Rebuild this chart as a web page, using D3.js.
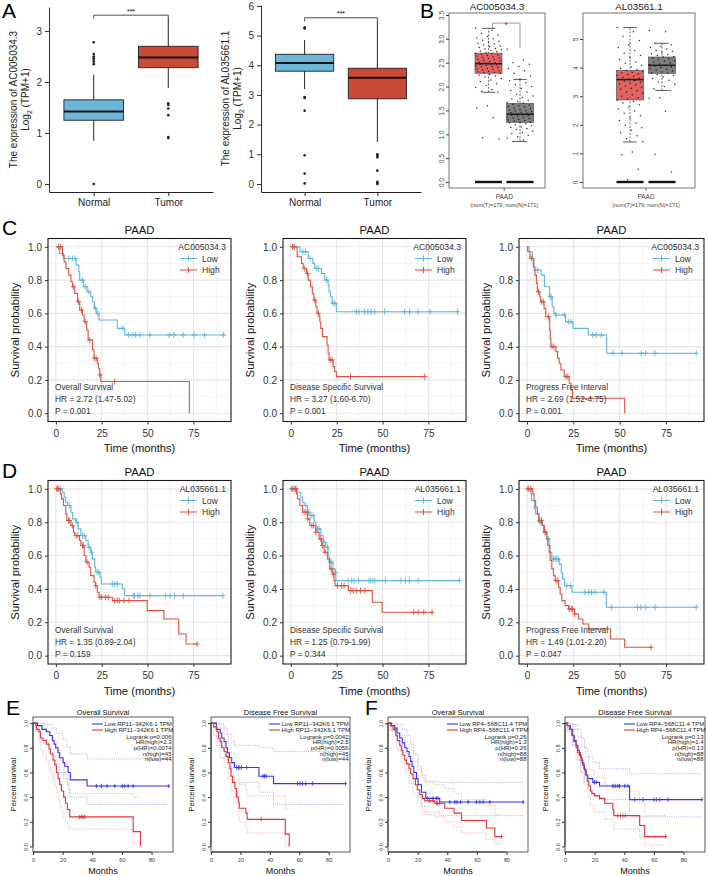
<!DOCTYPE html>
<html>
<head>
<meta charset="utf-8">
<script src="https://cdn.jsdelivr.net/npm/d3@7"></script>
<style>
  body { margin: 0; background: #fff; }
  svg { display: block; font-family: "Liberation Sans", Arial, Helvetica, sans-serif; }
</style>
</head>
<body>
<script>
// ---------- A: boxplots (TCGA) ----------
const groupsA = ["Normal", "Tumor"];
// [lower whisker, q1, median, q3, upper whisker]
const statsA1 = [[0.85, 1.25, 1.42, 1.65, 2.15], [1.88, 2.28, 2.48, 2.70, 3.25]];
const outA1 = [[2.78, 2.55, 2.5, 2.47, 2.44, 2.4, 2.35, 0.0], [1.58, 1.55, 1.48, 1.35, 0.92, 0.9]];
const statsA2 = [[3.2, 3.8, 4.08, 4.37, 4.85], [1.42, 2.87, 3.58, 3.9, 5.48]];
const outA2 = [[5.28, 5.24, 2.93, 2.9, 2.47, 0.97, 0.35, 0.02], [1.0, 0.95, 0.9, 0.45, 0.07, 0.03, 0.0]];
const ticksA1 = [0, 1, 2, 3];
const ticksA2 = [0, 1, 2, 3, 4, 5, 6];

// ---------- B: GEPIA boxplots ----------
const groupsB = ["Tumor", "Normal"];
const statsB1 = [[1.88, 2.28, 2.48, 2.70, 3.22], [0.85, 1.25, 1.42, 1.65, 2.15]];
const statsB2 = [[1.40, 2.87, 3.58, 3.90, 5.40], [3.20, 3.80, 4.08, 4.37, 4.85]];
const ticksB1 = [0, 0.5, 1, 1.5, 2, 2.5, 3, 3.5];
const ticksB2 = [0, 1, 2, 3, 4, 5];
const ptsB1T = [3.22,3.18,3.12,3.08,3.05,3.02,3.0,2.97,2.95,2.93,2.91,2.89,2.87,2.85,2.84,2.82,2.8,2.79,2.77,2.76,2.74,2.73,2.71,2.7,2.69,2.68,2.66,2.65,2.64,2.62,2.61,2.6,2.59,2.57,2.56,2.55,2.54,2.52,2.51,2.5,2.49,2.48,2.47,2.46,2.45,2.44,2.43,2.42,2.41,2.4,2.38,2.37,2.36,2.35,2.33,2.32,2.31,2.3,2.29,2.28,2.26,2.24,2.22,2.2,2.17,2.14,2.1,2.06,2.02,1.98,1.94,1.9,1.88,1.6,1.55,1.35,0.93,0.9];
const ptsB1N = [2.78,2.55,2.5,2.47,2.42,2.38,2.33,2.28,2.22,2.16,2.12,2.08,2.04,2.0,1.96,1.92,1.88,1.84,1.8,1.77,1.74,1.71,1.69,1.67,1.65,1.63,1.61,1.6,1.58,1.57,1.55,1.54,1.52,1.51,1.5,1.49,1.47,1.46,1.45,1.44,1.43,1.42,1.41,1.4,1.39,1.38,1.36,1.35,1.34,1.33,1.31,1.3,1.29,1.28,1.26,1.25,1.24,1.22,1.2,1.18,1.16,1.14,1.12,1.1,1.07,1.04,1.01,0.98,0.95,0.92,0.88,0.85];
const ptsB2T = [5.4,5.25,5.1,4.95,4.8,4.7,4.6,4.5,4.42,4.35,4.28,4.2,4.14,4.08,4.02,3.97,3.93,3.9,3.87,3.84,3.81,3.78,3.75,3.72,3.69,3.66,3.63,3.6,3.58,3.55,3.52,3.49,3.46,3.43,3.4,3.36,3.32,3.28,3.24,3.2,3.15,3.1,3.05,3.0,2.95,2.9,2.87,2.82,2.76,2.7,2.62,2.55,2.48,2.4,2.32,2.24,2.15,2.06,1.98,1.9,1.82,1.72,1.62,1.52,1.42,1.05,0.95,0.45,0.08];
const ptsB2N = [5.3,5.25,4.85,4.8,4.75,4.7,4.65,4.6,4.56,4.52,4.48,4.45,4.42,4.39,4.37,4.34,4.31,4.28,4.25,4.22,4.19,4.16,4.13,4.1,4.08,4.06,4.03,4.0,3.97,3.94,3.91,3.88,3.85,3.82,3.8,3.76,3.72,3.67,3.62,3.56,3.5,3.42,3.34,3.26,3.2,2.95,2.93,2.47,0.97,0.35];

// ---------- C / D: KM curves, [time, survival] steps ----------
const c1Low = [[0,1],[2,0.96],[4,0.93],[11,0.89],[12.5,0.85],[13,0.8],[15,0.76],[17,0.73],[19,0.7],[20,0.67],[21,0.63],[22,0.6],[23.5,0.56],[33.5,0.51],[37.5,0.47],[92,0.47]];
const c1LowCens = [7,9,10.5,14.5,16,18,21.5,22.8,36.5,39.5,42,43.5,45.8,51.3,61.8,64.3,69.4,75.5,81,91.5];
const c1High = [[0,1],[3.6,0.95],[4.5,0.91],[5.5,0.87],[7,0.83],[8.2,0.79],[9,0.76],[10.3,0.72],[11.8,0.67],[13,0.62],[14.5,0.59],[15.4,0.55],[16.8,0.5],[17.6,0.44],[20,0.38],[20.8,0.33],[22.6,0.3],[23.2,0.27],[23.9,0.23],[24.5,0.19],[72.8,0]];
const c1HighCens = [1.5,2.6,9.5,12.3,14,16,18.5,21,22,24,32];

const c2Low = [[0,1],[4.9,0.97],[9.5,0.93],[12,0.9],[13,0.87],[16.7,0.84],[18.5,0.8],[20.3,0.77],[20.8,0.73],[21.6,0.7],[22.5,0.66],[24.8,0.61],[91,0.61]];
const c2LowCens = [1,6.5,8,10.5,14,15,19.5,23,24,35.7,37.1,40.2,42,43.8,45.7,51.1,62,64.7,69.3,75.9,90.9];
const c2High = [[0,1],[3.4,0.94],[5.8,0.9],[6.7,0.87],[8.5,0.84],[9.4,0.8],[10.7,0.76],[11.7,0.72],[12.5,0.68],[13.6,0.64],[14.3,0.6],[15.4,0.58],[15.8,0.55],[16.3,0.51],[17.2,0.46],[19.7,0.41],[20.3,0.36],[20.8,0.32],[23,0.28],[23.9,0.25],[24.8,0.22],[73,0.22]];
const c2HighCens = [1,1.9,7.5,9,13,15,21.5,22.5,32.5,73];

const c3Low = [[0,1],[1.1,0.97],[2.9,0.93],[3.8,0.86],[7.6,0.83],[9.4,0.76],[12.1,0.7],[13.6,0.64],[14.5,0.6],[15.4,0.59],[20.8,0.55],[24.8,0.51],[33,0.47],[43,0.36],[91.3,0.36]];
const c3LowCens = [5.6,12.5,13,15.6,20.1,22.3,23.7,35.5,37.3,40.1,46.4,51.3,61.6,63.9,69,91.3];
const c3High = [[0,1],[0.4,0.97],[1.6,0.93],[3.4,0.88],[4.3,0.83],[5.1,0.78],[5.6,0.73],[6.9,0.7],[7.4,0.67],[9.2,0.63],[10.1,0.58],[12.1,0.55],[12.3,0.5],[12.6,0.45],[12.9,0.4],[15.6,0.37],[16.5,0.33],[17.4,0.3],[18.3,0.26],[20.1,0.22],[22.8,0.18],[23.7,0.14],[24.6,0.09],[52.7,0]];
const c3HighCens = [2.5,6.2,8,8.8,11.5,13.5,14.5,21,22];

const d1Low = [[0,1],[3.6,0.98],[4.5,0.95],[5.4,0.92],[6.3,0.9],[8.2,0.86],[9.1,0.82],[10.9,0.8],[12.1,0.76],[13.6,0.72],[16.3,0.69],[17.6,0.65],[19,0.62],[19.9,0.58],[21.2,0.53],[21.7,0.5],[24.1,0.47],[24.8,0.43],[36.2,0.4],[37.5,0.36],[91.1,0.36]];
const d1LowCens = [0.9,2.7,7.2,11.4,14.5,15.4,18.1,19.4,22.6,23.5,30.8,32.1,33.5,42.2,42.9,44.7,45.8,51.3,59.8,62.2,64.7,69.4,91.1];
const d1High = [[0,1],[2.4,0.97],[3.1,0.94],[4.2,0.9],[5.4,0.85],[6,0.81],[8.2,0.78],[9.6,0.74],[10.3,0.72],[12.9,0.69],[13.6,0.66],[15.4,0.6],[16.3,0.56],[18.1,0.53],[19,0.48],[20.8,0.44],[21.7,0.42],[22.6,0.38],[23.5,0.35],[30.8,0.33],[49.8,0.27],[58.9,0.22],[67,0.13],[71,0.07],[77,0.07]];
const d1HighCens = [0.5,1.5,6.9,7.5,9,11,12,14.5,15,17,21.7,24,25,27,28.5,32.1,33.5,34.6,37.1,39.9,77];

const d2Low = [[0,1],[3.6,0.98],[5.4,0.95],[6.3,0.92],[7.2,0.9],[9.1,0.86],[10.3,0.84],[12.7,0.8],[13.6,0.76],[16.3,0.72],[17.6,0.68],[19,0.65],[20.3,0.6],[20.8,0.56],[23,0.52],[24.1,0.5],[24.5,0.45],[91.8,0.45]];
const d2LowCens = [0.9,2.7,8.2,9.8,11,12.1,14.5,15.4,18.1,19.9,21.3,22.2,24.3,31.3,33.2,34.4,36.8,42.6,43.5,44.7,45.8,51.6,60.1,62.5,64.7,69.4,91.8];
const d2High = [[0,1],[3,0.97],[3.6,0.94],[4.9,0.9],[6.3,0.86],[9.1,0.82],[10.3,0.78],[13.6,0.74],[15.4,0.7],[16.8,0.66],[18.1,0.62],[19.9,0.58],[21.2,0.52],[22.6,0.49],[23.5,0.45],[24.1,0.42],[31.3,0.39],[44.4,0.32],[49.8,0.26],[77,0.26]];
const d2HighCens = [0.5,1.8,2.7,7.2,8.2,9.1,11.4,12.3,13.6,16.3,17.2,18.7,22,23,25.4,27.7,29,32.6,33.9,35.7,38,40.4,67,69.4,72.5,77];

const d3Low = [[0,1],[2.2,0.97],[2.5,0.93],[4,0.88],[4.7,0.85],[6.2,0.8],[8,0.78],[8.9,0.74],[10.7,0.7],[12,0.66],[12.5,0.62],[13.4,0.58],[17.4,0.55],[18.5,0.5],[19.2,0.46],[20.3,0.42],[24.3,0.38],[42.8,0.29],[91.3,0.29]];
const d3LowCens = [0.4,1.7,7.1,9.8,11.6,14.2,15.1,16,16.9,21.5,23.4,31.2,33.3,34.8,36.6,41.5,45.7,59.6,61.4,64.1,69.2,91.3];
const d3High = [[0,1],[3.1,0.97],[3.8,0.93],[4.7,0.89],[5.6,0.85],[6.5,0.81],[8.3,0.78],[9.4,0.74],[10.7,0.7],[11.2,0.66],[12,0.62],[12.5,0.57],[13.4,0.52],[14.3,0.48],[15.2,0.45],[17,0.41],[17.9,0.37],[18.8,0.33],[20.6,0.3],[22.5,0.28],[25.7,0.25],[27.9,0.22],[30.1,0.19],[33.3,0.16],[45,0.1],[52.7,0.05],[67,0.05]];
const d3HighCens = [0.7,2.1,6.9,7.8,9.8,15.6,16.7,22.8,23.9,24.6,25.7,67];

const kmGenes = ["AC005034.3", "AL035661.1"];
const kmTypes = ["Overall Survival", "Disease Specific Survival", "Progress Free Interval"];
const kmHR = [["HR = 2.72 (1.47-5.02)", "HR = 3.27 (1.60-6.70)", "HR = 2.69 (1.52-4.75)"],
              ["HR = 1.35 (0.89-2.04)", "HR = 1.25 (0.79-1.99)", "HR = 1.49 (1.01-2.20)"]];
const kmP = [["P = 0.001", "P = 0.001", "P = 0.001"], ["P = 0.159", "P = 0.344", "P = 0.047"]];
const kmLow = [[c1Low, c2Low, c3Low], [d1Low, d2Low, d3Low]];
const kmLowCens = [[c1LowCens, c2LowCens, c3LowCens], [d1LowCens, d2LowCens, d3LowCens]];
const kmHigh = [[c1High, c2High, c3High], [d1High, d2High, d3High]];
const kmHighCens = [[c1HighCens, c2HighCens, c3HighCens], [d1HighCens, d2HighCens, d3HighCens]];
const kmXTicks = [0, 25, 50, 75];
const kmYTicks = [0, 0.2, 0.4, 0.6, 0.8, 1.0];

// ---------- E / F: GEPIA KM with 95% CI ----------
const e1Low = [[0,1],[3,0.98],[6,0.95],[9,0.93],[11.3,0.9],[13.1,0.86],[14.2,0.83],[15.3,0.8],[16.9,0.76],[18,0.72],[20.3,0.68],[21.4,0.65],[23.7,0.6],[25.2,0.54],[36.5,0.49],[91.7,0.49]];
const e1LowCens = [42.8,46.2,50,55.2,60.2,61.9,64.2,67.6,91.7];
const e1LowUp = [[0,1],[9,0.99],[13,0.96],[16,0.92],[20,0.87],[23,0.81],[25.2,0.75],[36.5,0.71],[91.7,0.71]];
const e1LowDn = [[0,1],[3,0.93],[6,0.87],[9,0.84],[11.3,0.79],[13.1,0.74],[15.3,0.67],[18,0.6],[20.3,0.55],[23.7,0.46],[25.2,0.4],[36.5,0.34],[91.7,0.34]];
const e1High = [[0,1],[1.8,0.98],[2.5,0.95],[4.1,0.93],[5,0.88],[6.8,0.86],[9,0.83],[10.8,0.79],[11.7,0.75],[13.5,0.7],[14.7,0.66],[15.8,0.6],[16.9,0.55],[18,0.5],[19.2,0.45],[20.7,0.4],[21.9,0.35],[23.2,0.3],[24.8,0.24],[67.6,0.12],[72.5,0]];
const e1HighCens = [31.5,32.7,33.8,34.9];
const e1HighUp = [[0,1],[5,0.98],[9,0.94],[11.7,0.89],[13.5,0.85],[15.8,0.78],[18,0.7],[20.7,0.6],[23.2,0.5],[24.8,0.43],[67.6,0.4],[72.5,0.4]];
const e1HighDn = [[0,1],[1.8,0.93],[4.1,0.85],[5,0.78],[6.8,0.74],[9,0.7],[10.8,0.64],[11.7,0.6],[13.5,0.55],[14.7,0.5],[15.8,0.44],[16.9,0.38],[18,0.33],[19.2,0.28],[20.7,0.24],[21.9,0.2],[23.2,0.17],[24.8,0.14],[67.6,0.03],[72.5,0.03]];

const e2Low = [[0,1],[3.6,0.95],[6.2,0.92],[7.3,0.88],[8.9,0.85],[10.2,0.8],[11.2,0.76],[12.5,0.72],[14.1,0.68],[15.9,0.64],[32.6,0.57],[42.5,0.51],[91.4,0.51]];
const e2LowCens = [17.4,18.6,19.6,20.8,24.2,35.3,36.4,37.6,58.8,60.6,62.2,64.4,69.1,91.4];
const e2LowUp = [[0,1],[6.2,0.99],[8.9,0.96],[11.2,0.91],[14.1,0.86],[15.9,0.82],[32.6,0.8],[42.5,0.77],[91.4,0.77]];
const e2LowDn = [[0,1],[3.6,0.87],[6.2,0.82],[8.9,0.74],[11.2,0.65],[14.1,0.57],[15.9,0.52],[32.6,0.44],[42.5,0.34],[91.4,0.34]];
const e2High = [[0,1],[1.8,0.97],[4,0.93],[5.1,0.88],[6.2,0.85],[7.3,0.8],[8.9,0.77],[10.2,0.73],[11.8,0.68],[12.9,0.63],[13.6,0.57],[14.7,0.52],[16.3,0.47],[17.4,0.4],[18.6,0.36],[19.2,0.31],[23.7,0.27],[24.6,0.22],[50.5,0.1],[53.2,0]];
const e2HighCens = [34.2];
const e2HighUp = [[0,1],[4,0.99],[6.2,0.96],[8.9,0.91],[11.8,0.84],[13.6,0.75],[16.3,0.66],[18.6,0.55],[19.2,0.5],[23.7,0.46],[24.6,0.41],[50.5,0.3],[53.2,0.3]];
const e2HighDn = [[0,1],[1.8,0.9],[4,0.82],[6.2,0.72],[8.9,0.64],[11.8,0.55],[13.6,0.45],[16.3,0.35],[18.6,0.24],[19.2,0.2],[23.7,0.16],[24.6,0.11],[50.5,0.02],[53.2,0.02]];

const f1Low = [[0,1],[2.3,0.98],[4.5,0.96],[6.1,0.92],[7.9,0.88],[9.7,0.84],[11.3,0.8],[12.8,0.77],[14.2,0.73],[15.3,0.69],[16.2,0.65],[17.4,0.6],[19.2,0.55],[20.3,0.5],[22.6,0.44],[25.5,0.39],[34.9,0.36],[91.2,0.36]];
const f1LowCens = [26.6,30.4,32.7,33.8,41.7,45.1,46.6,48.9,54.1,59.7,62,64.2,68.7,91.2];
const f1LowUp = [[0,1],[6.1,0.99],[9.7,0.95],[12.8,0.9],[15.3,0.83],[17.4,0.75],[20.3,0.65],[22.6,0.58],[25.5,0.53],[34.9,0.52],[91.2,0.52]];
const f1LowDn = [[0,1],[2.3,0.94],[6.1,0.85],[9.7,0.76],[12.8,0.67],[15.3,0.58],[17.4,0.5],[20.3,0.4],[22.6,0.33],[25.5,0.28],[34.9,0.25],[91.2,0.25]];
const f1High = [[0,1],[1.6,0.98],[3.4,0.95],[5.2,0.9],[6.3,0.86],[7.9,0.82],[9,0.78],[10.1,0.74],[11.3,0.7],[12.4,0.67],[14.2,0.63],[15.3,0.59],[16.9,0.55],[18.5,0.5],[19.8,0.46],[21.4,0.42],[23.2,0.39],[24.8,0.37],[31.6,0.35],[38.3,0.31],[44.6,0.27],[49.6,0.21],[66.4,0.15],[72.1,0.08],[76.6,0.08]];
const f1HighCens = [28,30.4,32.7,33.3,34.6,76.6];
const f1HighUp = [[0,1],[3.4,0.99],[6.3,0.95],[9,0.9],[11.3,0.85],[14.2,0.78],[16.9,0.7],[19.8,0.62],[23.2,0.55],[24.8,0.52],[31.6,0.5],[38.3,0.47],[44.6,0.43],[49.6,0.38],[66.4,0.33],[72.1,0.26],[76.6,0.26]];
const f1HighDn = [[0,1],[1.6,0.94],[3.4,0.89],[6.3,0.78],[9,0.68],[11.3,0.6],[14.2,0.51],[16.9,0.43],[19.8,0.35],[23.2,0.28],[24.8,0.26],[31.6,0.24],[38.3,0.2],[44.6,0.16],[49.6,0.11],[66.4,0.06],[72.1,0.02],[76.6,0.02]];

const f2Low = [[0,1],[1.8,0.98],[3.6,0.95],[5.2,0.9],[6.3,0.86],[7.5,0.82],[8.6,0.78],[9.7,0.74],[10.9,0.7],[12,0.66],[13.1,0.62],[14.3,0.58],[15.4,0.55],[18.8,0.52],[23.3,0.49],[43.6,0.38],[92.3,0.38]];
const f2LowCens = [19.9,21,32.3,33.9,35.7,36.8,40.3,42.5,47,52.7,60.1,61.7,64,69.6,92.3];
const f2LowUp = [[0,1],[5.2,0.99],[8.6,0.95],[10.9,0.88],[13.1,0.8],[15.4,0.73],[18.8,0.68],[23.3,0.63],[43.6,0.59],[92.3,0.59]];
const f2LowDn = [[0,1],[1.8,0.94],[5.2,0.82],[8.6,0.7],[10.9,0.6],[13.1,0.52],[15.4,0.46],[18.8,0.42],[23.3,0.38],[43.6,0.24],[92.3,0.24]];
const f2High = [[0,1],[1.4,0.98],[3,0.95],[4.6,0.9],[5.9,0.85],[7.5,0.8],[8.6,0.76],[10.4,0.72],[11.5,0.68],[12.7,0.63],[13.8,0.58],[15,0.53],[16.1,0.49],[17.2,0.45],[18.1,0.43],[19.9,0.41],[23.3,0.39],[26.7,0.35],[32.3,0.3],[33,0.25],[50.4,0.17],[53.8,0.08],[67.9,0.08]];
const f2HighCens = [35.7,37.5,39.1,40.7,67.9];
const f2HighUp = [[0,1],[3,0.99],[5.9,0.95],[8.6,0.89],[11.5,0.81],[13.8,0.72],[16.1,0.62],[19.9,0.56],[26.7,0.5],[33,0.45],[50.4,0.35],[53.8,0.25],[67.9,0.25]];
const f2HighDn = [[0,1],[1.4,0.93],[4.6,0.82],[7.5,0.7],[10.4,0.6],[12.7,0.5],[15,0.4],[17.2,0.33],[19.9,0.28],[26.7,0.22],[33,0.14],[50.4,0.07],[53.8,0.01],[67.9,0.01]];

const gTitles = ["Overall Survival", "Disease Free Survival", "Overall Survival", "Disease Free Survival"];
const gGenes = ["RP11\u2212342K6.1", "RP11\u2212342K6.1", "RP4\u2212568C11.4", "RP4\u2212568C11.4"];
const gStats = [
  ["Logrank p=0.006", "HR(high)=2.3", "p(HR)=0.0074", "n(high)=45", "n(low)=44"],
  ["Logrank p=0.0042", "HR(high)=2.5", "p(HR)=0.0056", "n(high)=45", "n(low)=44"],
  ["Logrank p=0.26", "HR(high)=1.3", "p(HR)=0.26", "n(high)=88", "n(low)=88"],
  ["Logrank p=0.13", "HR(high)=1.4", "p(HR)=0.13", "n(high)=88", "n(low)=88"]
];
const gLow = [e1Low, e2Low, f1Low, f2Low];
const gLowCens = [e1LowCens, e2LowCens, f1LowCens, f2LowCens];
const gLowUp = [e1LowUp, e2LowUp, f1LowUp, f2LowUp];
const gLowDn = [e1LowDn, e2LowDn, f1LowDn, f2LowDn];
const gHigh = [e1High, e2High, f1High, f2High];
const gHighCens = [e1HighCens, e2HighCens, f1HighCens, f2HighCens];
const gHighUp = [e1HighUp, e2HighUp, f1HighUp, f2HighUp];
const gHighDn = [e1HighDn, e2HighDn, f1HighDn, f2HighDn];
const gXTicks = [0, 20, 40, 60, 80];
const gYTicks = [0, 0.2, 0.4, 0.6, 0.8, 1.0];

// ---------- drawing ----------
const svg = d3.select("body").append("svg").attr("width", 708).attr("height", 876);

function styleAxis(sel, fs, col = "#333") {
  sel.attr("font-family", null).attr("font-size", null);
  sel.selectAll("text").attr("font-size", fs).attr("fill", col);
  sel.selectAll("line, path").attr("stroke", col);
}
function survAt(steps, t) {
  let s = steps[0][1];
  for (const [ti, si] of steps) if (ti <= t) s = si;
  return s;
}
function censorPath(x, y, steps, times, w, h) {
  return times.map(t => {
    const px = x(t), py = y(survAt(steps, t));
    return `M${px - w},${py}H${px + w}M${px},${py - h}V${py + h}`;
  }).join("");
}

// panel letters
[["A", 2, 18], ["B", 420, 18], ["C", 2, 235], ["D", 2, 478], ["E", 6, 715], ["F", 365, 715]]
  .forEach(([t, x, y]) => svg.append("text").attr("x", x).attr("y", y).attr("font-size", 21).text(t));

// ---- A ----
const fillA = ["#6DB6D8", "#CB4A35"];
function drawBoxA({ ax, ay, right, top, domain, ticks, stats, outliers, gene, bracket }) {
  const x = d3.scalePoint(groupsA, [ax, right]).padding(0.6);
  const y = d3.scaleLinear(domain, [ay, top]);
  const bw = x.step() * 0.8;
  const g = svg.append("g");
  const ya = g.append("g").attr("transform", `translate(${ax},0)`)
    .call(d3.axisLeft(y).tickValues(ticks).tickSize(4).tickPadding(3).tickSizeOuter(0).tickFormat(d3.format("d")));
  const xa = g.append("g").attr("transform", `translate(0,${ay})`)
    .call(d3.axisBottom(x).tickSize(4).tickPadding(3).tickSizeOuter(0));
  styleAxis(ya, 10); styleAxis(xa, 10, "#222");

  groupsA.forEach((grp, i) => {
    const [lo, q1, md, q3, hi] = stats[i];
    const cx = x(grp);
    g.append("line").attr("x1", cx).attr("x2", cx).attr("y1", y(lo)).attr("y2", y(hi)).attr("stroke", "#222");
    g.append("rect").attr("x", cx - bw / 2).attr("y", y(q3)).attr("width", bw).attr("height", y(q1) - y(q3))
      .attr("fill", fillA[i]).attr("stroke", "#222").attr("stroke-width", 0.9);
    g.append("line").attr("x1", cx - bw / 2).attr("x2", cx + bw / 2).attr("y1", y(md)).attr("y2", y(md))
      .attr("stroke", "#111").attr("stroke-width", 2);
    g.append("g").selectAll("circle").data(outliers[i]).join("circle")
      .attr("cx", cx).attr("cy", d => y(d)).attr("r", 1.3).attr("fill", "#222");
  });
  const [bv, leg] = bracket;
  g.append("path").attr("fill", "none").attr("stroke", "#222").attr("stroke-width", 0.8)
    .attr("d", `M${x("Normal")},${y(leg)}V${y(bv)}H${x("Tumor")}V${y(leg)}`);
  g.append("text").attr("x", (x("Normal") + x("Tumor")) / 2).attr("y", y(bv) - 1.5)
    .attr("text-anchor", "middle").attr("font-size", 7).text("***");

  const mid = (ay + top) / 2;
  g.append("text").attr("transform", `translate(${ax - 32},${mid}) rotate(-90)`)
    .attr("text-anchor", "middle").attr("font-size", 10).attr("fill", "#222").text(`The expression of ${gene}`);
  const t2 = g.append("text").attr("transform", `translate(${ax - 20},${mid}) rotate(-90)`)
    .attr("text-anchor", "middle").attr("font-size", 10).attr("fill", "#222");
  t2.append("tspan").text("Log");
  t2.append("tspan").attr("font-size", 7).attr("dy", 3).text("2");
  t2.append("tspan").attr("dy", -3).text(" (TPM+1)");
}
drawBoxA({ ax: 49, ay: 192, right: 213, top: 7, domain: [-0.157, 3.47], ticks: ticksA1,
  stats: statsA1, outliers: outA1, gene: "AC005034.3", bracket: [3.31, 3.245] });
drawBoxA({ ax: 261, ay: 192, right: 421, top: 5, domain: [-0.27, 6.03], ticks: ticksA2,
  stats: statsA2, outliers: outA2, gene: "AL035661.1", bracket: [5.6, 5.48] });

// ---- B ----
const fillB = ["#E06262", "#7E7E7E"];
function drawBoxB({ fx0, fx1, fy0, fy1, centers, domain, yr, ticks, fmt, title, stats, pts, star }) {
  const x = d3.scalePoint(groupsB, centers);
  const y = d3.scaleLinear(domain, yr);
  const bw = 27;
  const g = svg.append("g");
  g.append("rect").attr("x", fx0).attr("y", fy0).attr("width", fx1 - fx0).attr("height", fy1 - fy0)
    .attr("fill", "none").attr("stroke", "#666").attr("stroke-width", 0.9);
  const ya = g.append("g").attr("transform", `translate(${fx0},0)`)
    .call(d3.axisLeft(y).tickValues(ticks).tickSize(3).tickFormat(fmt));
  ya.select(".domain").remove();
  styleAxis(ya, 6.5, "#444");
  ya.selectAll(".tick text").attr("transform", "rotate(-90)").attr("x", 0).attr("y", -5).attr("dy", 0)
    .attr("text-anchor", "middle");

  groupsB.forEach((grp, i) => {
    const [lo, q1, md, q3, hi] = stats[i];
    const cx = x(grp);
    g.append("line").attr("x1", cx).attr("x2", cx).attr("y1", y(lo)).attr("y2", y(hi))
      .attr("stroke", "#333").attr("stroke-width", 0.7).attr("stroke-dasharray", "2,1.5");
    [lo, hi].forEach(v => g.append("line").attr("x1", cx - bw / 4).attr("x2", cx + bw / 4)
      .attr("y1", y(v)).attr("y2", y(v)).attr("stroke", "#333").attr("stroke-width", 0.8));
    g.append("rect").attr("x", cx - bw / 2).attr("y", y(q3)).attr("width", bw).attr("height", y(q1) - y(q3))
      .attr("fill", fillB[i]).attr("stroke", "#555").attr("stroke-width", 0.7);
    g.append("line").attr("x1", cx - bw / 2).attr("x2", cx + bw / 2).attr("y1", y(md)).attr("y2", y(md))
      .attr("stroke", "#222").attr("stroke-width", 1.6);
    g.append("line").attr("x1", cx - bw / 2).attr("x2", cx + bw / 2).attr("y1", y(0)).attr("y2", y(0))
      .attr("stroke", "#111").attr("stroke-width", 2.4);
    g.append("g").selectAll("circle").data(pts[i]).join("circle")
      .attr("cx", (d, k) => cx + (((k * 37) % 23) / 22 - 0.5) * bw * 0.95)
      .attr("cy", d => y(d)).attr("r", 0.75).attr("fill", "#111").attr("opacity", 0.85);
  });
  if (star) {
    const [bv, l0, l1] = star;
    g.append("path").attr("fill", "none").attr("stroke", "#777").attr("stroke-width", 0.7)
      .attr("d", `M${x("Tumor") + 4},${y(l0)}V${y(bv)}H${x("Normal")}V${y(l1)}`);
    g.append("text").attr("x", (x("Tumor") + x("Normal")) / 2 + 2).attr("y", y(bv) + 5)
      .attr("text-anchor", "middle").attr("font-size", 9).attr("fill", "#E03030").text("*");
  }
  g.append("text").attr("x", (fx0 + fx1) / 2).attr("y", fy0 - 3).attr("text-anchor", "middle")
    .attr("font-size", 9.8).attr("fill", "#222").text(title);
  const lx = (x("Tumor") + x("Normal")) / 2;
  g.append("line").attr("x1", lx).attr("x2", lx).attr("y1", fy1).attr("y2", fy1 + 3).attr("stroke", "#666");
  g.append("text").attr("x", lx).attr("y", fy1 + 11).attr("text-anchor", "middle").attr("font-size", 6.5).attr("fill", "#444").text("PAAD");
  g.append("text").attr("x", lx).attr("y", fy1 + 19).attr("text-anchor", "middle").attr("font-size", 5.5).attr("fill", "#444").text("(num(T)=179; num(N)=171)");
}
drawBoxB({ fx0: 449, fx1: 545, fy0: 13, fy1: 188, centers: [488.5, 520], domain: [0, 3.5], yr: [182, 15],
  ticks: ticksB1, fmt: d3.format(".1f"), title: "AC005034.3", stats: statsB1, pts: [ptsB1T, ptsB1N], star: [3.33, 3.22, 2.8] });
drawBoxB({ fx0: 583, fx1: 695, fy0: 13, fy1: 188, centers: [630, 662], domain: [0, 5], yr: [182, 39],
  ticks: ticksB2, fmt: d3.format("d"), title: "AL03561.1", stats: statsB2, pts: [ptsB2T, ptsB2N] });

// ---- C / D ----
const kmCols = [{ x0: 48, x1: 231 }, { x0: 283, x1: 466 }, { x0: 519, x1: 704 }];
const kmRows = [{ y0: 238.5, y1: 421.5 }, { y0: 480.5, y1: 664 }];
const lowCol = "#5FB5DA", highCol = "#D9533F";

function drawKM(r, c) {
  const { x0, x1 } = kmCols[c], { y0, y1 } = kmRows[r];
  const x = d3.scaleLinear([-4.3, 95.5], [x0, x1]);
  const y = d3.scaleLinear([-0.05, 1.05], [y1, y0]);
  const g = svg.append("g");
  const grid = g.append("g").attr("fill", "none");
  [12.5, 37.5, 62.5, 87.5].forEach(v => grid.append("line").attr("x1", x(v)).attr("x2", x(v)).attr("y1", y0).attr("y2", y1).attr("stroke", "#F0F0F0").attr("stroke-width", 0.6));
  [0.1, 0.3, 0.5, 0.7, 0.9].forEach(v => grid.append("line").attr("y1", y(v)).attr("y2", y(v)).attr("x1", x0).attr("x2", x1).attr("stroke", "#F0F0F0").attr("stroke-width", 0.6));
  kmXTicks.forEach(v => grid.append("line").attr("x1", x(v)).attr("x2", x(v)).attr("y1", y0).attr("y2", y1).attr("stroke", "#E6E6E6").attr("stroke-width", 1.1));
  kmYTicks.forEach(v => grid.append("line").attr("y1", y(v)).attr("y2", y(v)).attr("x1", x0).attr("x2", x1).attr("stroke", "#E6E6E6").attr("stroke-width", 1.1));

  const line = d3.line().x(d => x(d[0])).y(d => y(d[1])).curve(d3.curveStepAfter);
  [[kmLow[r][c], kmLowCens[r][c], lowCol], [kmHigh[r][c], kmHighCens[r][c], highCol]].forEach(([st, cens, col]) => {
    g.append("path").attr("d", line(st)).attr("fill", "none").attr("stroke", col).attr("stroke-width", 1.1);
    g.append("path").attr("d", censorPath(x, y, st, cens, 2.5, 3)).attr("fill", "none").attr("stroke", col).attr("stroke-width", 0.9);
  });

  g.append("rect").attr("x", x0).attr("y", y0).attr("width", x1 - x0).attr("height", y1 - y0)
    .attr("fill", "none").attr("stroke", "#1a1a1a").attr("stroke-width", 1.1);

  const xa = g.append("g").attr("transform", `translate(0,${y1})`)
    .call(d3.axisBottom(x).tickValues(kmXTicks).tickSize(3).tickPadding(5));
  xa.select(".domain").remove(); styleAxis(xa, 10);
  const ya = g.append("g").attr("transform", `translate(${x0},0)`)
    .call(d3.axisLeft(y).tickValues(kmYTicks).tickSize(3).tickPadding(3).tickFormat(d3.format(".1f")));
  ya.select(".domain").remove(); styleAxis(ya, 10);

  const xm = (x0 + x1) / 2;
  g.append("text").attr("x", xm).attr("y", y0 - 4.5).attr("text-anchor", "middle").attr("font-size", 11.3).attr("fill", "#111").text("PAAD");
  g.append("text").attr("x", xm).attr("y", y1 + 30.5).attr("text-anchor", "middle").attr("font-size", 11.2).attr("fill", "#111").text("Time (months)");
  g.append("text").attr("transform", `translate(${x0 - 29},${(y0 + y1) / 2}) rotate(-90)`)
    .attr("text-anchor", "middle").attr("font-size", 11.3).attr("fill", "#111").text("Survival probability");

  // legend
  g.append("text").attr("x", x1 - 5).attr("y", y0 + 11.5).attr("text-anchor", "end").attr("font-size", 8.6).attr("fill", "#333").text(kmGenes[r]);
  [["Low", lowCol, y0 + 20], ["High", highCol, y0 + 31.5]].forEach(([lab, col, yy]) => {
    g.append("path").attr("d", `M${x1 - 51},${yy}H${x1 - 34}M${x1 - 42.5},${yy - 3}V${yy + 3}`)
      .attr("stroke", col).attr("stroke-width", 1.1).attr("fill", "none");
    g.append("text").attr("x", x1 - 29).attr("y", yy + 3).attr("font-size", 8.6).attr("fill", "#333").text(lab);
  });
  // annotation
  [kmTypes[c], kmHR[r][c], kmP[r][c]].forEach((t, i) =>
    g.append("text").attr("x", x0 + 7).attr("y", y1 - 31.5 + i * 12).attr("font-size", 8.3).attr("fill", "#333").text(t));
}
for (let r = 0; r < 2; r++) for (let c = 0; c < 3; c++) drawKM(r, c);

// ---- E / F ----
const gBoxes = [{ x0: 33, x1: 173 }, { x0: 211, x1: 350 }, { x0: 388, x1: 528 }, { x0: 565, x1: 705 }];
const gY0 = 717, gY1 = 852;
const gBlue = "#3434EE", gRed = "#E23434", gBlueCI = "#9C9CF2", gRedCI = "#F09C9C";

function drawGepia(i) {
  const { x0, x1 } = gBoxes[i];
  const x = d3.scaleLinear([0, 94.5], [x0, x1]);
  const y = d3.scaleLinear([-0.045, 1.05], [gY1, gY0]);
  const g = svg.append("g");
  const line = d3.line().x(d => x(d[0])).y(d => y(d[1])).curve(d3.curveStepAfter);
  [[gLowUp[i], gBlueCI], [gLowDn[i], gBlueCI], [gHighUp[i], gRedCI], [gHighDn[i], gRedCI]].forEach(([st, col]) =>
    g.append("path").attr("d", line(st)).attr("fill", "none").attr("stroke", col).attr("stroke-width", 0.8).attr("stroke-dasharray", "1,1.2"));
  [[gLow[i], gLowCens[i], gBlue], [gHigh[i], gHighCens[i], gRed]].forEach(([st, cens, col]) => {
    g.append("path").attr("d", line(st)).attr("fill", "none").attr("stroke", col).attr("stroke-width", 1.1);
    g.append("path").attr("d", censorPath(x, y, st, cens, 1.5, 2.2)).attr("fill", "none").attr("stroke", col).attr("stroke-width", 0.8);
  });
  g.append("rect").attr("x", x0).attr("y", gY0).attr("width", x1 - x0).attr("height", gY1 - gY0)
    .attr("fill", "none").attr("stroke", "#333").attr("stroke-width", 0.8);

  const xa = g.append("g").attr("transform", `translate(0,${gY1})`)
    .call(d3.axisBottom(x).tickValues(gXTicks).tickSize(3).tickPadding(3).tickSizeOuter(0));
  xa.select(".domain").attr("d", `M${x(0)},0H${x(80)}`);
  styleAxis(xa, 5.5);
  const ya = g.append("g").attr("transform", `translate(${x0},0)`)
    .call(d3.axisLeft(y).tickValues(gYTicks).tickSize(3).tickSizeOuter(0).tickFormat(d3.format(".1f")));
  ya.select(".domain").attr("d", `M0,${y(0)}V${y(1)}`);
  styleAxis(ya, 5.5);
  ya.selectAll(".tick text").attr("transform", "rotate(-90)").attr("x", 0).attr("y", -5).attr("dy", 0)
    .attr("text-anchor", "middle");

  const xm = (x0 + x1) / 2;
  g.append("text").attr("x", xm).attr("y", gY0 - 2.5).attr("text-anchor", "middle").attr("font-size", 7.5).attr("fill", "#111").text(gTitles[i]);
  g.append("text").attr("x", xm).attr("y", gY1 + 22).attr("text-anchor", "middle").attr("font-size", 9).attr("fill", "#111").text("Months");
  g.append("text").attr("transform", `translate(${x0 - 17},${(gY0 + gY1) / 2}) rotate(-90)`)
    .attr("text-anchor", "middle").attr("font-size", 7.5).attr("fill", "#111").text("Percent survival");

  [["Low", gBlue, 7], ["High", gRed, 13]].forEach(([lab, col, dy]) => {
    g.append("line").attr("x1", x1 - 81).attr("x2", x1 - 70).attr("y1", gY0 + dy).attr("y2", gY0 + dy)
      .attr("stroke", col).attr("stroke-width", 1.1);
    g.append("text").attr("x", x1 - 68.5).attr("y", gY0 + dy + 2).attr("font-size", 6).attr("fill", "#222")
      .text(`${lab} ${gGenes[i]} TPM`);
  });
  gStats[i].forEach((t, k) =>
    g.append("text").attr("x", x1 - 1.5).attr("y", gY0 + 21.8 + k * 5.6).attr("text-anchor", "end")
      .attr("font-size", 6).attr("fill", "#222").text(t));
}
for (let i = 0; i < 4; i++) drawGepia(i);
</script>
</body>
</html>
